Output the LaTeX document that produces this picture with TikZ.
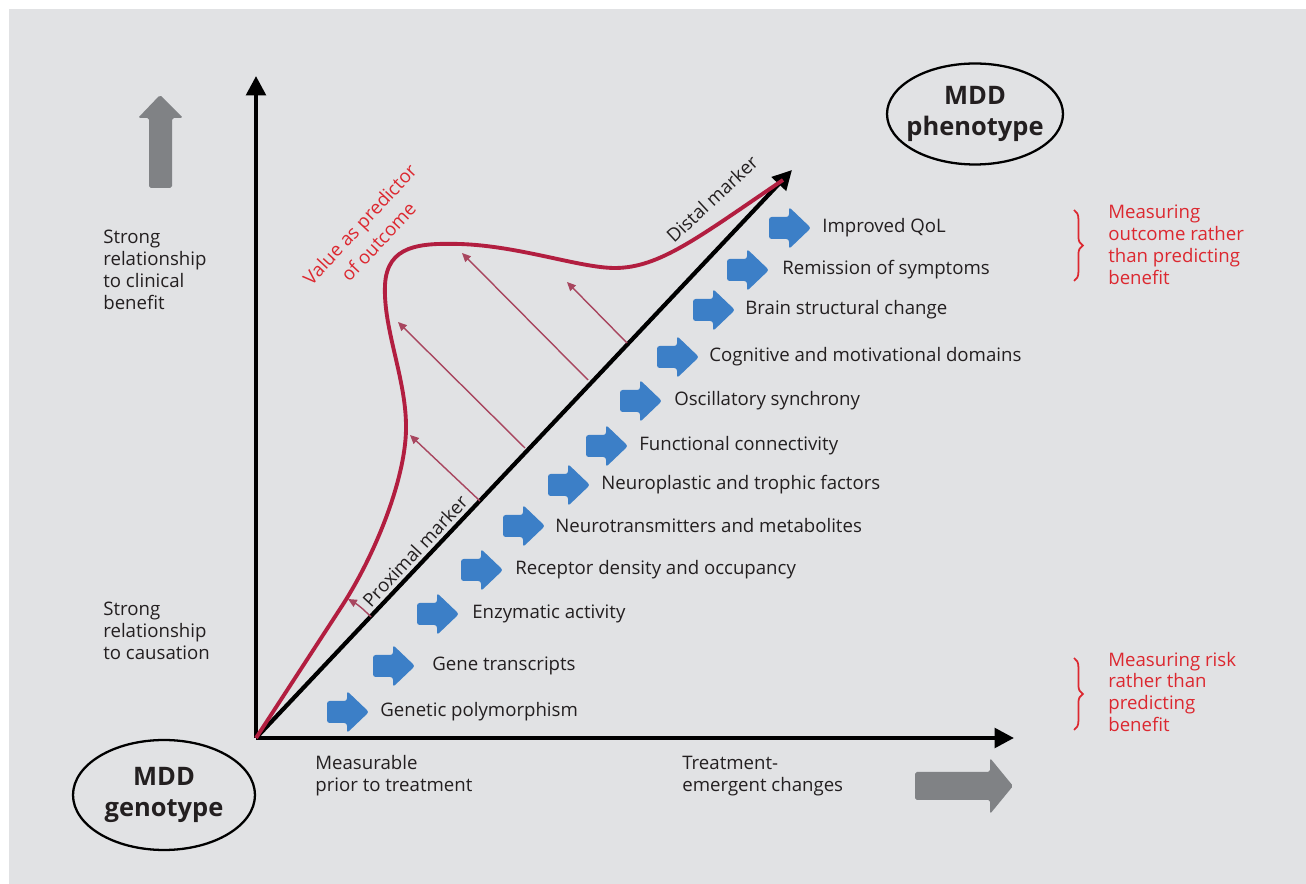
\documentclass[tikz,border=0pt]{standalone}
\usepackage{fontspec}
\setmainfont{Open Sans}
\usetikzlibrary{arrows.meta,decorations.pathreplacing,shapes.geometric}
\definecolor{bggray}{HTML}{E1E2E4}
\definecolor{blockgray}{HTML}{808285}
\definecolor{arrblue}{HTML}{3C7FC7}
\definecolor{curvered}{HTML}{B21E40}
\definecolor{notered}{HTML}{DC2830}
\definecolor{thinred}{HTML}{A8465F}
\definecolor{txtdark}{HTML}{231F20}
\tikzset{
  axis/.style={line width=2.4pt, -{Triangle[length=11pt,width=11pt]}},
  predcurve/.style={curvered, line width=2.2pt},
  predarrow/.style={thinred, line width=0.8pt, -{Triangle[length=5pt,width=4.5pt]}},
  blockarrow/.style={fill=blockgray, rounded corners=1pt},
  steparrow/.style={fill=arrblue, rounded corners=1.5pt},
  steplabel/.style={anchor=west, inner sep=0pt},
  sidelabel/.style={anchor=west, align=left, inner sep=0pt},
  rednote/.style={anchor=west, align=left, inner sep=0pt, text=notered},
  redbrace/.style={notered, line width=1pt, decorate, decoration={brace, amplitude=5pt}},
  mddbox/.style={ellipse, draw, line width=1.3pt, align=center, inner sep=-6pt,
    font=\fontsize{14.5}{17.5}\selectfont\bfseries}
}
\begin{document}
\begin{tikzpicture}[x=0.02cm, y=-0.02cm, font=\fontsize{10.6}{12.5}\selectfont, text=txtdark]
  \useasboundingbox (0,0) rectangle (1306,884);
  \fill[bggray] (9,9) rectangle (1306,884);

  % gray direction arrows
  \fill[blockarrow] (149,188) -- (149,118) -- (138,118) -- (160,95) -- (183,118)
    -- (172,118) -- (172,188) -- cycle;
  \fill[blockarrow] (915,772) -- (990,772) -- (990,758) -- (1013,786) -- (990,814)
    -- (990,800) -- (915,800) -- cycle;

  % axes
  \coordinate (O) at (256,738);
  \coordinate (ytop) at (256,76);
  \coordinate (xend) at (1014,738);
  \coordinate (dtop) at (792,170);
  \draw[axis] (O) -- (ytop);
  \draw[axis] (O) -- (xend);
  \draw[axis] (O) -- (dtop);

  % value as predictor of outcome
  \draw[predcurve] (O) -- (340,609) .. controls (375,556) and (405,480) .. (406,430)
    .. controls (407,380) and (383,330) .. (385,285)
    .. controls (387,245) and (420,243) .. (460,244)
    .. controls (520,246) and (580,268) .. (615,268)
    .. controls (660,268) and (700,236) .. (783,180);
  \coordinate (a1) at (371,617);
  \coordinate (a2) at (348,599);
  \draw[predarrow] (a1) to[bend right=8] (a2);
  \foreach \bx/\by/\vx/\vy [count=\i] in {480/501/410/435, 525/448/398/322,
    588/380/462/253, 627/343/567/282}
  {
    \coordinate (b\i) at (\bx,\by);
    \coordinate (v\i) at (\vx,\vy);
    \draw[predarrow] (b\i) -- (v\i);
  }

  % biomarker steps
  \foreach \x/\y/\lx/\txt [count=\i] in {
    327/712/380/Genetic polymorphism,
    373/666/432/Gene transcripts,
    417/614/472/Enzymatic activity,
    461/570/515/Receptor density and occupancy,
    503/526/555/Neurotransmitters and metabolites,
    548/485/601/Neuroplastic and trophic factors,
    586/446/639/Functional connectivity,
    620/401/674/Oscillatory synchrony,
    657/357/709/Cognitive and motivational domains,
    693/310/745/Brain structural change,
    727/270/782/Remission of symptoms,
    769/228/822/Improved QoL}
  {
    \fill[steparrow] (\x,\y-11) -- (\x+20,\y-11) -- (\x+20,\y-21) -- (\x+42,\y)
      -- (\x+20,\y+21) -- (\x+20,\y+11) -- (\x,\y+11) -- cycle;
    \node[steplabel] (lab\i) at (\lx,\y) {\txt};
  }

  % rotated labels
  \node[text=notered, align=center, rotate=47, font=\fontsize{10.6}{14.5}\selectfont]
    (value) at (369,233) {Value as predictor\\of outcome};
  \node[rotate=43] (distal) at (712,199) {Distal marker};
  \node[rotate=47] (proximal) at (415,551) {Proximal marker};

  % axis texts
  \node[sidelabel] (benefit) at (103,270)
    {Strong\\relationship\\to clinical\\benefit};
  \node[sidelabel] (causation) at (103,631)
    {Strong\\relationship\\to causation};
  \node[sidelabel] (prior) at (315,776) {Measurable\\prior to treatment};
  \node[sidelabel] (emergent) at (682,776) {Treatment-\\emergent changes};

  % red notes
  \draw[redbrace] (1074,210) -- (1074,281);
  \node[rednote] (outcome) at (1108,245)
    {Measuring\\outcome rather\\than predicting\\benefit};
  \draw[redbrace] (1074,658) -- (1074,730);
  \node[rednote] (risk) at (1108,692)
    {Measuring risk\\rather than\\predicting\\benefit};

  % genotype and phenotype
  \node[mddbox, minimum width=3.64cm, minimum height=2.2cm] (genotype) at (164,795)
    {MDD\\genotype};
  \node[mddbox, minimum width=3.52cm, minimum height=2.02cm] (phenotype) at (975,114)
    {MDD\\phenotype};
\end{tikzpicture}
\end{document}
